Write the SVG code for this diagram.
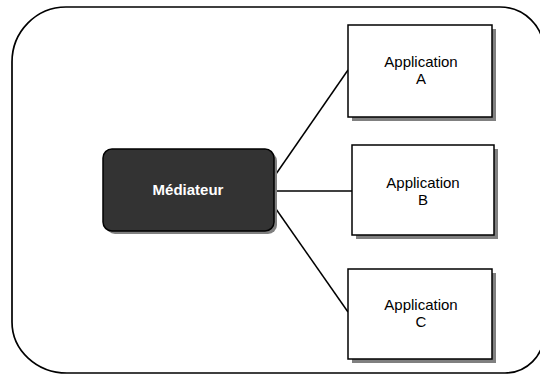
<svg xmlns="http://www.w3.org/2000/svg" width="540" height="376" viewBox="0 0 540 376">
  <style>
    .frame { fill: #ffffff; stroke: #000000; stroke-width: 1.7; }
    .shadow { fill: #808080; stroke: none; }
    .app { fill: #ffffff; stroke: #000000; stroke-width: 1.5; }
    .med { fill: #333333; stroke: #000000; stroke-width: 1.5; }
    .conn { fill: none; stroke: #000000; stroke-width: 1.5; }
    .lbl { font-family: "Liberation Sans", Arial, sans-serif; font-size: 15px; fill: #000000; text-anchor: middle; }
    .medlbl { font-family: "Liberation Sans", Arial, sans-serif; font-size: 15px; font-weight: bold; fill: #ffffff; text-anchor: middle; }
  </style>
  <rect x="0" y="0" width="540" height="376" fill="#ffffff"/>
  <path class="frame" d="M 66 7 H 500 A 44 44 0 0 1 544 51 V 334 A 39 39 0 0 1 505 373 H 67 A 55 51 0 0 1 12 322 V 62 A 54 55 0 0 1 66 7 Z"/>
  <g id="connectors">
    <line class="conn" x1="276" y1="174" x2="348" y2="70"/>
    <line class="conn" x1="275" y1="191" x2="352" y2="191"/>
    <line class="conn" x1="276" y1="209" x2="348" y2="312"/>
  </g>
  <g id="mediateur">
    <rect class="shadow" x="106" y="152" width="171" height="82" rx="9"/>
    <rect class="med" x="103" y="149" width="171" height="82" rx="9"/>
    <text class="medlbl" x="188" y="195">Médiateur</text>
  </g>
  <g id="appA">
    <rect class="shadow" x="352" y="29" width="144" height="92"/>
    <rect class="app" x="348" y="25" width="144" height="92"/>
    <text class="lbl" x="421" y="67">Application</text>
    <text class="lbl" x="421" y="84">A</text>
  </g>
  <g id="appB">
    <rect class="shadow" x="356" y="149" width="142" height="90"/>
    <rect class="app" x="352" y="145" width="142" height="90"/>
    <text class="lbl" x="423" y="188">Application</text>
    <text class="lbl" x="423" y="205">B</text>
  </g>
  <g id="appC">
    <rect class="shadow" x="352" y="273" width="144" height="90"/>
    <rect class="app" x="348" y="269" width="144" height="90"/>
    <text class="lbl" x="421" y="310">Application</text>
    <text class="lbl" x="421" y="327">C</text>
  </g>
</svg>
